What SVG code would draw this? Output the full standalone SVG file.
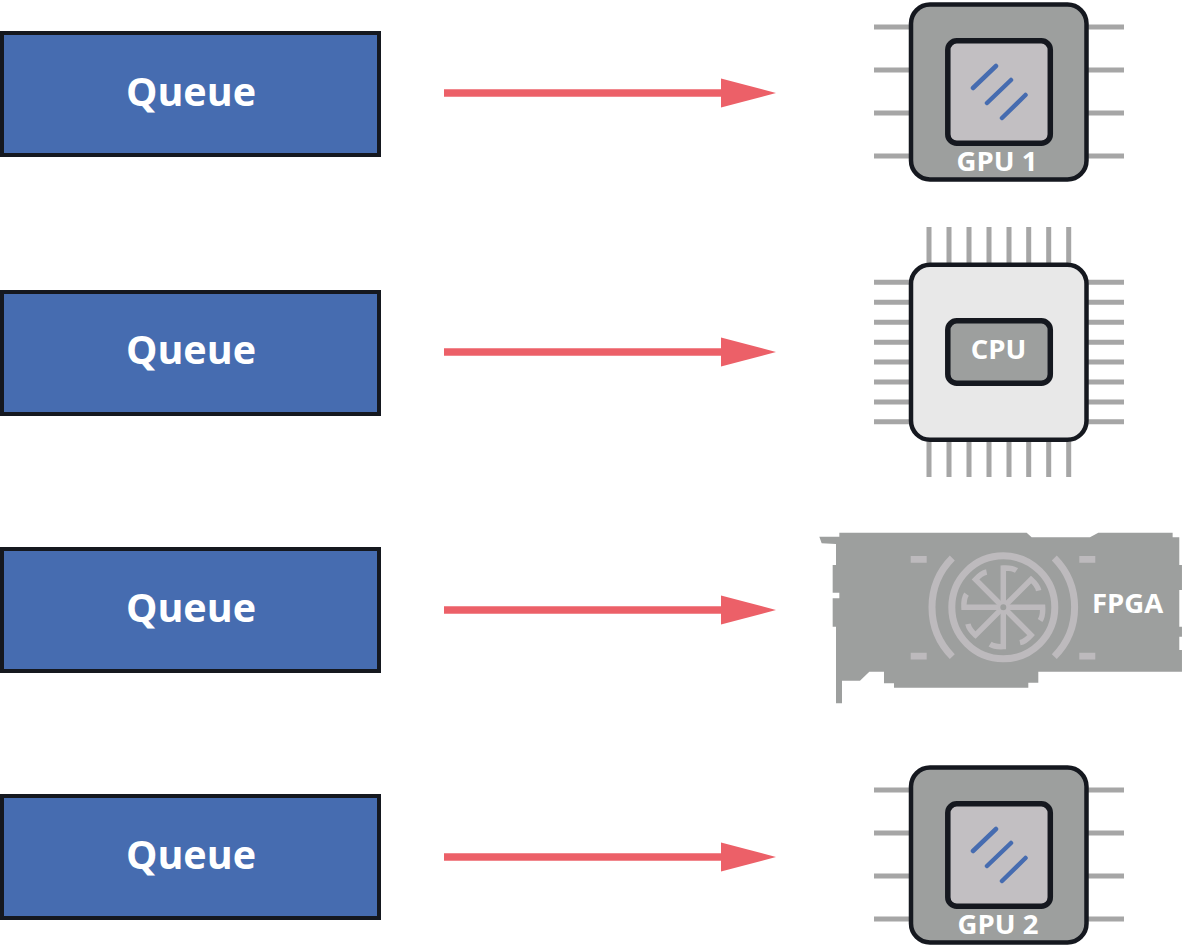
<svg xmlns="http://www.w3.org/2000/svg" xmlns:xlink="http://www.w3.org/1999/xlink" width="1184" height="946" viewBox="0 0 1184 946">
<style>
text{font-family:"Open Sans","Noto Sans","Liberation Sans",sans-serif;font-weight:700;fill:#fff;text-anchor:middle}
.q{fill:#466cb0;stroke:#15181f;stroke-width:4}
.ql{font-size:39.500px}
.lbl{font-size:27.500px}
.pin{stroke:#a6a6a6;stroke-width:5;fill:none}
.chip{stroke:#15181f;stroke-width:4.5}
.core{stroke:#15181f;stroke-width:5.5}
.dk{fill:#9d9f9e}
.lt{fill:#c2bfc2}
.pale{fill:#e8e8e8}
.dash{stroke:#466cb0;stroke-width:4.5;stroke-linecap:round;fill:none}
.conn{stroke:#ec6068;stroke-width:7.5;fill:none;marker-end:url(#ah)}
.fan{stroke:#bdbabd;fill:none}
.pad{fill:#bdbabd}
</style>
<defs>
<marker id="ah" markerUnits="userSpaceOnUse" markerWidth="56" markerHeight="30" refX="1" refY="15" orient="auto">
<path d="M0 0.5L55 15L0 29.500Z" fill="#ec6068"/>
</marker>
<path id="spoke" d="M1003.300 607.300V568Q1012 567.500 1016.500 570.500" class="fan" stroke-width="5.500"/>
</defs>
<g id="connectors">
<path class="conn" d="M444 93H722"/>
<path class="conn" d="M444 352H722"/>
<path class="conn" d="M444 610H722"/>
<path class="conn" d="M444 857H722"/>
</g>
<g id="queue1"><rect class="q" x="2" y="33" width="377" height="122"/><text class="ql" x="191" y="106">Queue</text></g>
<g id="queue2"><rect class="q" x="2" y="292" width="377" height="122"/><text class="ql" x="191" y="364">Queue</text></g>
<g id="queue3"><rect class="q" x="2" y="549" width="377" height="122"/><text class="ql" x="191" y="622">Queue</text></g>
<g id="queue4"><rect class="q" x="2" y="796" width="377" height="122"/><text class="ql" x="191" y="869">Queue</text></g>
<g id="gpu1">
<path class="pin" d="M874 27H910M874 70H910M874 113H910M874 156H910M1088 27H1124M1088 70H1124M1088 113H1124M1088 156H1124"/>
<rect class="chip dk" x="911" y="4.500" width="175.500" height="175" rx="19"/>
<rect class="core lt" x="947.800" y="40.800" width="102.500" height="102.500" rx="9"/>
<path class="dash" d="M973 88L996 66M987 103L1011 80M1002 118L1025.500 95"/>
<text class="lbl" x="997" y="171">GPU 1</text>
</g>
<g id="cpu">
<path class="pin" d="M929 227V263M949 227V263M969 227V263M989 227V263M1009 227V263M1028.700 227V263M1048.700 227V263M1068.700 227V263M929 441V477M949 441V477M969 441V477M989 441V477M1009 441V477M1028.700 441V477M1048.700 441V477M1068.700 441V477M874 282.300H910M874 302.300H910M874 322.300H910M874 342.300H910M874 362H910M874 382H910M874 402H910M874 421.700H910M1088 282.300H1124M1088 302.300H1124M1088 322.300H1124M1088 342.300H1124M1088 362H1124M1088 382H1124M1088 402H1124M1088 421.700H1124"/>
<rect class="chip pale" x="911" y="264.800" width="175.500" height="175" rx="19"/>
<rect class="core dk" x="947.800" y="320.800" width="102.500" height="62.500" rx="9"/>
<text class="lbl" x="998.500" y="359">CPU</text>
</g>
<g id="fpga">
<path class="dk" transform="translate(810 520) scale(.3333)" d="M28 50H88V38H650L665 52H840L865 38H1088V52H1108V135H1116V210H1108V320H1116V350H1108V390H1116V455H685V488H655V503H252V490H222V455H178L150 482H96V550H78V320H68V235H88V218H68V135H78V72L35 70Z"/>
<path class="pad" d="M910.700 556h16v6.700h-16zM1079.300 556h16v6.700h-16zM910.700 652.700h16v6.700h-16zM1079.300 652.700h16v6.700h-16z"/>
<circle class="fan" cx="1003.300" cy="607.300" r="51.500" stroke-width="7"/>
<path class="fan" stroke-width="7" d="M952.300 558A70 70 0 0 0 952.300 656.600M1054.300 558A70 70 0 0 1 1054.300 656.600"/>
<use xlink:href="#spoke" href="#spoke"/>
<use xlink:href="#spoke" href="#spoke" transform="rotate(45 1003.300 607.300)"/>
<use xlink:href="#spoke" href="#spoke" transform="rotate(90 1003.300 607.300)"/>
<use xlink:href="#spoke" href="#spoke" transform="rotate(135 1003.300 607.300)"/>
<use xlink:href="#spoke" href="#spoke" transform="rotate(180 1003.300 607.300)"/>
<use xlink:href="#spoke" href="#spoke" transform="rotate(225 1003.300 607.300)"/>
<use xlink:href="#spoke" href="#spoke" transform="rotate(270 1003.300 607.300)"/>
<use xlink:href="#spoke" href="#spoke" transform="rotate(315 1003.300 607.300)"/>
<circle cx="1003.300" cy="607.300" r="4" fill="#9d9f9e" stroke="#bdbabd" stroke-width="2"/>
<text class="lbl" x="1127.500" y="612.500">FPGA</text>
</g>
<g id="gpu2">
<path class="pin" d="M874 790H910M874 833H910M874 876H910M874 919H910M1088 790H1124M1088 833H1124M1088 876H1124M1088 919H1124"/>
<rect class="chip dk" x="911" y="767.500" width="175.500" height="175" rx="19"/>
<rect class="core lt" x="947.800" y="803.800" width="102.500" height="102.500" rx="9"/>
<path class="dash" d="M973 851L996 829M987 866L1011 843M1002 881L1025.500 858"/>
<text class="lbl" x="998" y="934">GPU 2</text>
</g>
</svg>
